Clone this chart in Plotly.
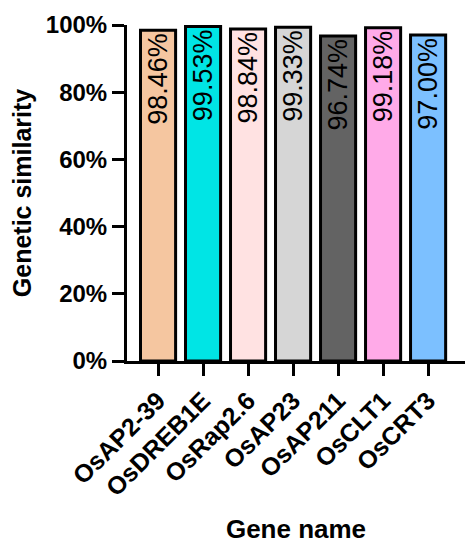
import plotly.graph_objects as go

# Genetic similarity per gene
genes=['OsAP2-39','OsDREB1E','OsRap2.6','OsAP23','OsAP211','OsCLT1','OsCRT3']
similarity=[0.9846,0.9953,0.9884,0.9933,0.9674,0.9918,0.9700]
colors=['#F5C6A0','#00E5E5','#FFE2E2','#D6D6D6','#636363','#FFAAE8','#7CC0FF']

ticks=[0,0.2,0.4,0.6,0.8,1.0]
ticktext=['0%','20%','40%','60%','80%','100%']

fig=go.Figure(go.Bar(x=genes,
                     y=similarity,
                     width=0.78,
                     marker={'color':colors,
                             'line_color':'black',
                             'line_width':3},
                     texttemplate='%{y:.2%}',
                     textposition='inside',
                     insidetextanchor='end',
                     textangle=-90,
                     textfont={'family':'Liberation Sans','size':27,'color':'black'},
                     cliponaxis=False))

# page body adds an 8px margin, so the figure is 8px smaller each way
fig.update_layout(width=468,height=542,
                  margin={'l':119,'r':11,'t':17,'b':189},
                  plot_bgcolor='white',paper_bgcolor='white',
                  showlegend=False,
                  uniformtext={'minsize':27,'mode':'show'},
                  font={'family':'Liberation Sans','color':'black'})

fig.update_yaxes(range=[0,1],automargin=False,
                 tickvals=ticks,ticktext=ticktext,
                 tickfont={'size':24,'weight':'bold'},
                 ticks='outside',ticklen=12,tickwidth=3,tickcolor='black',
                 showline=True,linewidth=3,linecolor='black',
                 showgrid=False,zeroline=False,
                 title={'text':'Genetic similarity','font':{'size':25,'weight':'bold'},'standoff':8})

fig.update_xaxes(range=[-0.69,6.82],automargin=False,
                 tickangle=-45,
                 tickfont={'size':25,'weight':'bold'},
                 ticks='outside',ticklen=12,tickwidth=3,tickcolor='black',
                 showline=True,linewidth=3,linecolor='black',
                 showgrid=False,
                 title={'text':'Gene name','font':{'size':26,'weight':'bold'},'standoff':20})

fig.write_html('out.html')
